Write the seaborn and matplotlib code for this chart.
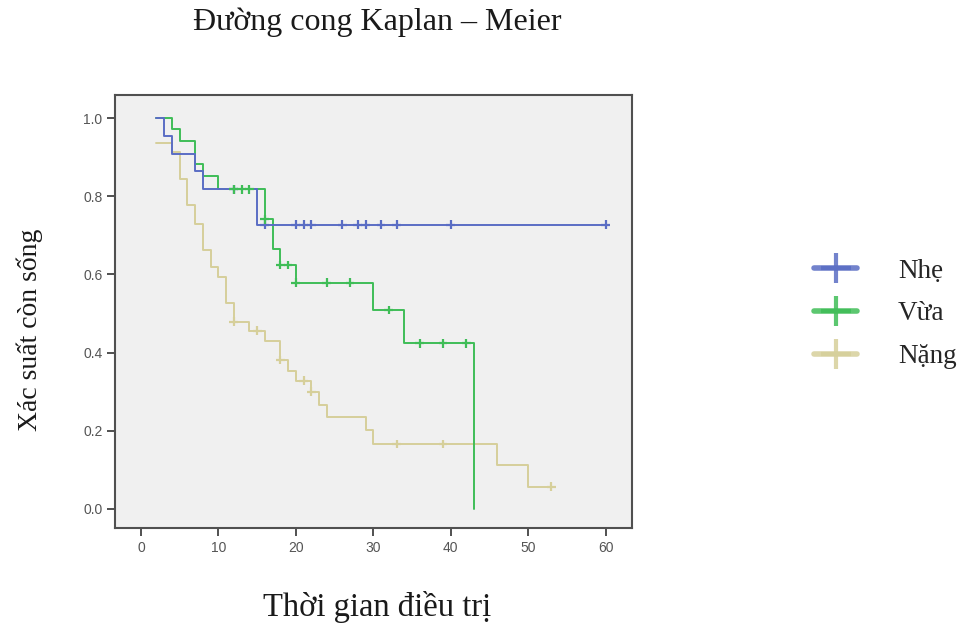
import matplotlib
matplotlib.use("Agg")
import matplotlib.pyplot as plt
from matplotlib.lines import Line2D
import seaborn as sns
import pandas as pd

# ---- data ----
groups = ["Nhẹ", "Vừa", "Nặng"]
colors = ["#5a6dc4", "#3fbd57", "#d6cf9a"]

# step points: time where survival changes, survival after that time
nhe_t = [2, 3, 4, 7, 8, 15, 60]
nhe_s = [1.0, 0.955, 0.909, 0.864, 0.818, 0.727, 0.727]
nhe_ct = [12, 16, 20, 21, 22, 26, 28, 29, 31, 33, 40, 60]
nhe_cs = [0.818, 0.727, 0.727, 0.727, 0.727, 0.727, 0.727, 0.727, 0.727, 0.727, 0.727, 0.727]

vua_t = [2, 4, 5, 7, 8, 10, 16, 17, 18, 20, 30, 34, 43]
vua_s = [1.0, 0.971, 0.941, 0.882, 0.853, 0.818, 0.741, 0.664, 0.624, 0.579, 0.509, 0.424, 0.0]
vua_ct = [12, 13, 14, 16, 18, 19, 20, 24, 27, 32, 36, 39, 42]
vua_cs = [0.818, 0.818, 0.818, 0.741, 0.624, 0.624, 0.579, 0.579, 0.579, 0.509, 0.424, 0.424, 0.424]

nang_t = [2, 4, 5, 6, 7, 8, 9, 10, 11, 12, 14, 16, 18, 19, 20, 22, 23, 24, 29, 30, 46, 50, 53]
nang_s = [0.935, 0.912, 0.845, 0.777, 0.73, 0.662, 0.62, 0.594, 0.526, 0.479, 0.456, 0.43,
          0.381, 0.353, 0.328, 0.30, 0.265, 0.234, 0.201, 0.166, 0.113, 0.057, 0.057]
nang_ct = [12, 15, 18, 21, 22, 33, 39, 53]
nang_cs = [0.479, 0.456, 0.381, 0.328, 0.30, 0.166, 0.166, 0.057]

x_ticks = [0, 10, 20, 30, 40, 50, 60]
y_ticks = [0.0, 0.2, 0.4, 0.6, 0.8, 1.0]

title = "Đường cong Kaplan – Meier"
xlabel = "Thời gian điều trị"
ylabel = "Xác suất còn sống"

# ---- build tables ----
steps = pd.concat([
    pd.DataFrame({"t": nhe_t, "s": nhe_s, "g": groups[0]}),
    pd.DataFrame({"t": vua_t, "s": vua_s, "g": groups[1]}),
    pd.DataFrame({"t": nang_t, "s": nang_s, "g": groups[2]}),
], ignore_index=True)
cens = pd.concat([
    pd.DataFrame({"t": nhe_ct, "s": nhe_cs, "g": groups[0]}),
    pd.DataFrame({"t": vua_ct, "s": vua_cs, "g": groups[1]}),
    pd.DataFrame({"t": nang_ct, "s": nang_cs, "g": groups[2]}),
], ignore_index=True)
palette = dict(zip(groups, colors))

sns.set_style("white")
plt.rcParams["font.family"] = ["Liberation Sans", "DejaVu Sans"]

fig = plt.figure(figsize=(9.61, 6.23), dpi=100)
ax = fig.add_axes([115 / 961, 1 - 528 / 623, (632 - 115) / 961, (528 - 95) / 623])
ax.set_facecolor("#f0f0f0")

sns.lineplot(data=steps, x="t", y="s", hue="g", hue_order=groups[::-1], palette=palette,
             drawstyle="steps-post", estimator=None, sort=False, linewidth=1.4,
             legend=False, ax=ax)
sns.scatterplot(data=cens, x="t", y="s", hue="g", palette=palette, marker="+",
                s=40, linewidth=1.6, legend=False, ax=ax, zorder=3)

ax.set_xlim(-3.35, 63.4)
ax.set_ylim(-0.049, 1.059)
ax.set_xticks(x_ticks)
ax.set_xticklabels([str(v) for v in x_ticks])
ax.set_yticks(y_ticks)
ax.set_yticklabels([f"{v:.1f}" for v in y_ticks])
ax.tick_params(axis="both", direction="out", length=6, width=1.4, color="#505050",
               labelsize=10, labelcolor="#555555", pad=3)
ax.tick_params(axis="x", bottom=True)
ax.tick_params(axis="y", left=True)
for sp in ax.spines.values():
    sp.set_color("#505050")
    sp.set_linewidth(1.5)
ax.set_xlabel("")
ax.set_ylabel("")

serif = ["Liberation Serif", "DejaVu Serif"]
fig.text(377 / 961, 1 - 22 / 623, title, ha="center", va="center",
         family=serif, fontsize=23, color="#1a1a1a")
fig.text(377 / 961, 1 - 607 / 623, xlabel, ha="center", va="center",
         family=serif, fontsize=23.5, color="#1a1a1a")
fig.text(30 / 961, 1 - 330 / 623, ylabel, ha="center", va="center", rotation=90,
         family=serif, fontsize=20, color="#1a1a1a")

handles = [Line2D([0], [0], color=c, lw=4.0, marker="+", markersize=22,
                  markeredgewidth=3.0, alpha=0.85) for c in colors]
leg = fig.legend(handles, groups, loc="center left",
                 bbox_to_anchor=(814 / 961, 1 - 314 / 623),
                 frameon=False, handlelength=1.6, handletextpad=1.5,
                 labelspacing=0.66, borderpad=0, borderaxespad=0,
                 prop={"family": serif, "size": 19.5})

fig.savefig("out.png", dpi=100)
